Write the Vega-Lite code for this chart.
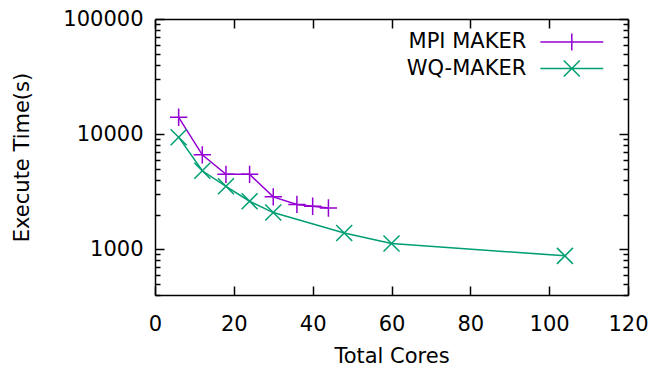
{
  "$schema": "https://vega.github.io/schema/vega-lite/v6.json",
  "width": 473,
  "height": 276,
  "autosize": {"type": "none"},
  "padding": {"left": 155, "top": 19, "right": 27, "bottom": 73},
  "background": "white",
  "config": {
    "view": {"stroke": null},
    "font": "DejaVu Sans",
    "axis": {
      "grid": false,
      "domainColor": "black",
      "domainWidth": 1.5,
      "tickColor": "black",
      "tickWidth": 1.5,
      "labelColor": "black",
      "labelFont": "DejaVu Sans",
      "labelFontSize": 21,
      "titleFont": "DejaVu Sans",
      "titleFontSize": 21,
      "titleFontWeight": "normal",
      "titleColor": "black"
    },
    "legend": {
      "title": null,
      "orient": "none",
      "legendX": 406.3,
      "legendY": 12.5,
      "padding": 0,
      "labelFont": "DejaVu Sans",
      "labelFontSize": 21,
      "labelColor": "black",
      "labelAlign": "right",
      "labelOffset": -56,
      "labelLimit": 400,
      "symbolSize": 289,
      "symbolStrokeWidth": 1.5,
      "rowPadding": 3.5
    }
  },
  "data": {
    "values": [
      {"series": "MPI MAKER", "cores": 6, "time": 14000},
      {"series": "MPI MAKER", "cores": 12, "time": 6600},
      {"series": "MPI MAKER", "cores": 18, "time": 4470},
      {"series": "MPI MAKER", "cores": 24, "time": 4470},
      {"series": "MPI MAKER", "cores": 30, "time": 2850},
      {"series": "MPI MAKER", "cores": 36, "time": 2450},
      {"series": "MPI MAKER", "cores": 40, "time": 2360},
      {"series": "MPI MAKER", "cores": 44, "time": 2280},
      {"series": "WQ-MAKER", "cores": 6, "time": 9400},
      {"series": "WQ-MAKER", "cores": 12, "time": 4800},
      {"series": "WQ-MAKER", "cores": 18, "time": 3520},
      {"series": "WQ-MAKER", "cores": 24, "time": 2610},
      {"series": "WQ-MAKER", "cores": 30, "time": 2080},
      {"series": "WQ-MAKER", "cores": 48, "time": 1385},
      {"series": "WQ-MAKER", "cores": 60, "time": 1120},
      {"series": "WQ-MAKER", "cores": 104, "time": 875}
    ]
  },
  "layer": [
    {
      "mark": {"type": "line", "strokeWidth": 1.5},
      "encoding": {
        "x": {
          "field": "cores", "type": "quantitative",
          "scale": {"domain": [0, 120], "nice": false, "zero": false},
          "axis": {
            "orient": "bottom",
            "values": [0, 20, 40, 60, 80, 100, 120],
            "title": "Total Cores",
            "tickSize": -9,
            "labelPadding": 27,
            "labelFlush": false,
            "titleY": 61,
            "titleBaseline": "middle"
          }
        },
        "y": {
          "field": "time", "type": "quantitative",
          "scale": {"type": "log", "domain": [400, 100000], "nice": false},
          "axis": {
            "orient": "left",
            "values": [400, 500, 600, 700, 800, 900, 1000, 2000, 3000, 4000, 5000, 6000, 7000, 8000, 9000, 10000, 20000, 30000, 40000, 50000, 60000, 70000, 80000, 90000, 100000],
            "format": "d",
            "labelExpr": "indexof([1000, 10000, 100000], datum.value) >= 0 ? datum.label : ''",
            "tickSize": {"condition": {"test": "indexof([1000, 10000, 100000], datum.value) >= 0", "value": -9}, "value": -5},
            "labelPadding": 21,
            "labelFlush": false,
            "labelOverlap": false,
            "title": "Execute Time(s)",
            "titleX": -133,
            "titleY": 138,
            "titleAngle": -90,
            "titleAlign": "center",
            "titleBaseline": "middle"
          }
        },
        "color": {
          "field": "series", "type": "nominal",
          "scale": {"domain": ["MPI MAKER", "WQ-MAKER"], "range": ["#9400d3", "#009e73"]},
          "legend": {
            "encode": {
              "symbols": {
                "update": {
                  "shape": {"signal": "datum.value === 'MPI MAKER' ? 'M-3.7,0L3.7,0M0,-1L0,1' : 'M-3.7,0L3.7,0M-0.94,-0.94L0.94,0.94M-0.94,0.94L0.94,-0.94'"},
                  "fill": {"value": "transparent"},
                  "stroke": {"signal": "datum.value === 'MPI MAKER' ? '#9400d3' : '#009e73'"},
                  "strokeWidth": {"value": 1.5}
                }
              }
            }
          }
        }
      }
    },
    {
      "transform": [{"filter": "datum.series === 'MPI MAKER'"}],
      "mark": {"type": "point", "filled": false, "strokeWidth": 1.5, "opacity": 1, "shape": "M-1,0L1,0M0,-1L0,1", "size": 300, "color": "#9400d3"},
      "encoding": {
        "x": {
          "field": "cores", "type": "quantitative",
          "scale": {"domain": [0, 120], "nice": false, "zero": false},
          "axis": {
            "orient": "top",
            "values": [0, 20, 40, 60, 80, 100, 120],
            "labels": false,
            "title": null,
            "tickSize": -9
          }
        },
        "y": {
          "field": "time", "type": "quantitative",
          "scale": {"type": "log", "domain": [400, 100000], "nice": false},
          "axis": {
            "orient": "right",
            "values": [400, 500, 600, 700, 800, 900, 1000, 2000, 3000, 4000, 5000, 6000, 7000, 8000, 9000, 10000, 20000, 30000, 40000, 50000, 60000, 70000, 80000, 90000, 100000],
            "labels": false,
            "title": null,
            "tickSize": {"condition": {"test": "indexof([1000, 10000, 100000], datum.value) >= 0", "value": -9}, "value": -5}
          }
        }
      }
    },
    {
      "transform": [{"filter": "datum.series === 'WQ-MAKER'"}],
      "mark": {"type": "point", "filled": false, "strokeWidth": 1.5, "opacity": 1, "shape": "M-1,-1L1,1M-1,1L1,-1", "size": 256, "color": "#009e73"},
      "encoding": {
        "x": {"field": "cores", "type": "quantitative", "axis": null},
        "y": {"field": "time", "type": "quantitative", "axis": null}
      }
    }
  ],
  "resolve": {"axis": {"x": "independent", "y": "independent"}}
}
